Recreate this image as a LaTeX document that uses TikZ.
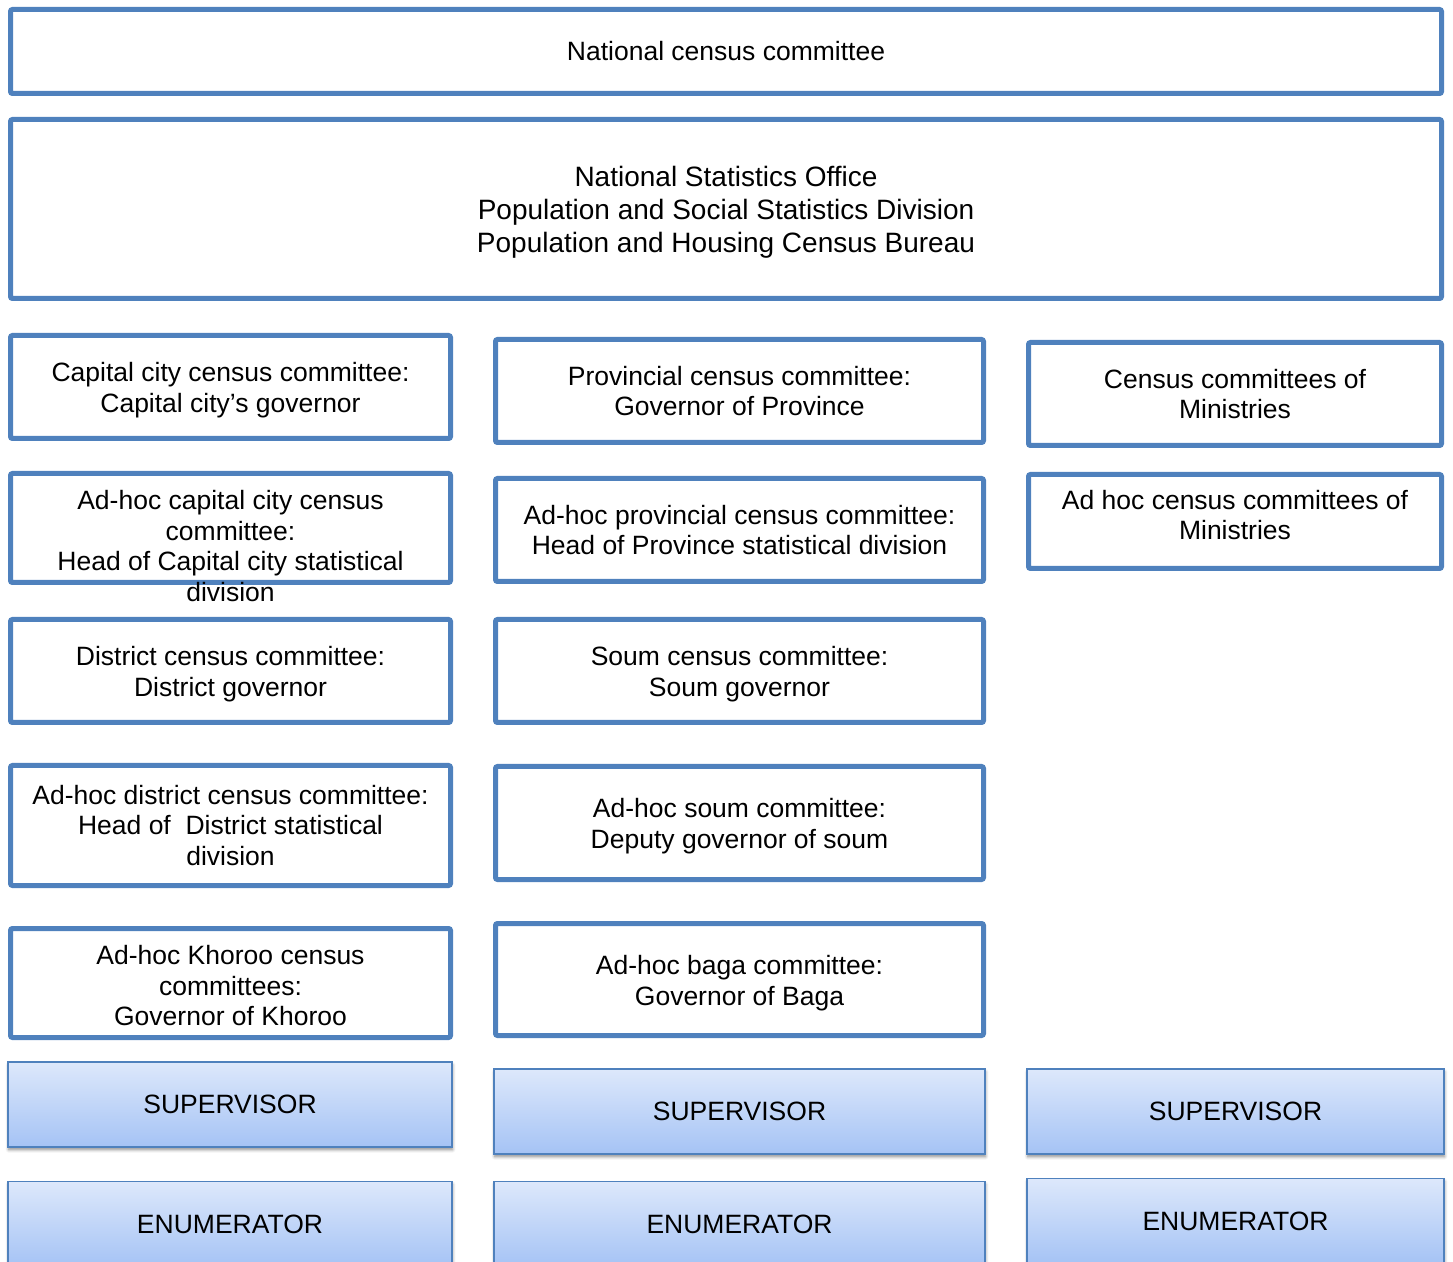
\documentclass[tikz,border=0pt]{standalone}
\usepackage{fontspec}
\setmainfont{Liberation Sans}
\usetikzlibrary{shadows.blur}

\definecolor{boxblue}{HTML}{4F81BD}
\definecolor{gradtop}{HTML}{DDE8FB}
\definecolor{gradbot}{HTML}{A5C3F5}

\tikzset{
    cbox/.style={draw=boxblue, line width=2.5pt, rounded corners=1pt,
        inner sep=0pt, align=center,
        font=\fontsize{13.25}{15.25}\selectfont},
    ctext/.style={inner sep=0pt, align=center,
        font=\fontsize{13.25}{15.25}\selectfont},
    fbox/.style={draw=boxblue, line width=0.75pt, inner sep=0pt,
        top color=gradtop, bottom color=gradbot,
        font=\fontsize{13.25}{15.25}\selectfont,
        blur shadow={shadow xshift=0.3pt, shadow yshift=-1.4pt,
            shadow blur radius=1.5pt, shadow blur steps=6, shadow opacity=45}}
}

\begin{document}
\begin{tikzpicture}[x=0.5pt,y=-0.5pt]
        \useasboundingbox (0,0) rectangle (1453,1262);
        \clip (0,0) rectangle (1453,1262);

        \node[cbox, minimum width=715.5pt, minimum height=42pt] (nc) at (726,51.5)
            {National census committee};
        \node[cbox, minimum width=715.5pt, minimum height=89.5pt] (nso) at (726,209) {};
        \node[ctext, font=\fontsize{14}{16.5}\selectfont] (nsot) at (726,212)
            {National Statistics Office\\Population and Social Statistics Division\\Population and Housing Census Bureau};

        % committees
        \node[cbox, minimum width=220pt, minimum height=51.5pt] (cc) at (230.5,387) {};
        \node[ctext] (cct) at (230.5,390)
            {Capital city census committee:\\Capital city’s governor};
        \node[cbox, minimum width=244pt, minimum height=51.5pt] (pc) at (739.5,391)
            {Provincial census committee:\\Governor of Province};
        \node[cbox, minimum width=206.5pt, minimum height=51.5pt] (mc) at (1235,394)
            {Census committees of\\Ministries};

        \node[cbox, minimum width=220pt, minimum height=54.5pt] (acc) at (230.5,528) {};
        \node[ctext] (acct) at (230.5,546)
            {Ad-hoc capital city census\\committee:\\Head of Capital city statistical\\division};
        \node[cbox, minimum width=244pt, minimum height=51.5pt] (apc) at (739.5,530)
            {Ad-hoc provincial census committee:\\Head of Province statistical division};
        \node[cbox, minimum width=206.5pt, minimum height=47pt] (amc) at (1235,521.5) {};
        \node[ctext] (amct) at (1235,515)
            {Ad hoc census committees of\\Ministries};

        \node[cbox, minimum width=220pt, minimum height=51.5pt] (dc) at (230.5,671) {};
        \node[ctext] (dct) at (230.5,674)
            {District census committee:\\District governor};
        \node[cbox, minimum width=244pt, minimum height=51.5pt] (sc) at (739.5,671) {};
        \node[ctext] (sct) at (739.5,674)
            {Soum census committee:\\Soum governor};

        \node[cbox, minimum width=220pt, minimum height=60pt] (adc) at (230.5,825.5)
            {Ad-hoc district census committee:\\Head of~~District statistical\\division};
        \node[cbox, minimum width=244pt, minimum height=56.5pt] (asc) at (739.5,823) {};
        \node[ctext] (asct) at (739.5,826)
            {Ad-hoc soum committee:\\Deputy governor of soum};

        \node[cbox, minimum width=220pt, minimum height=54.5pt] (akc) at (230.5,983) {};
        \node[ctext] (akct) at (230.5,986)
            {Ad-hoc Khoroo census\\committees:\\Governor of Khoroo};
        \node[cbox, minimum width=244pt, minimum height=56pt] (abc) at (739.5,979.5) {};
        \node[ctext] (abct) at (739.5,983)
            {Ad-hoc baga committee:\\Governor of Baga};

        % field staff
        \node[fbox, minimum width=222pt, minimum height=42.5pt] (sup1) at (230,1104.5) {SUPERVISOR};
        \node[fbox, minimum width=245.5pt, minimum height=42.5pt] (sup2) at (739.5,1111.5) {SUPERVISOR};
        \node[fbox, minimum width=208.5pt, minimum height=42.5pt] (sup3) at (1235.5,1111.5) {SUPERVISOR};

        \node[fbox, minimum width=222pt, minimum height=42.5pt] (enu1) at (230,1224) {ENUMERATOR};
        \node[fbox, minimum width=245.5pt, minimum height=42.5pt] (enu2) at (739.5,1224) {ENUMERATOR};
        \node[fbox, minimum width=208.5pt, minimum height=42.5pt] (enu3) at (1235.5,1221) {ENUMERATOR};
    \end{tikzpicture}
\end{document}
